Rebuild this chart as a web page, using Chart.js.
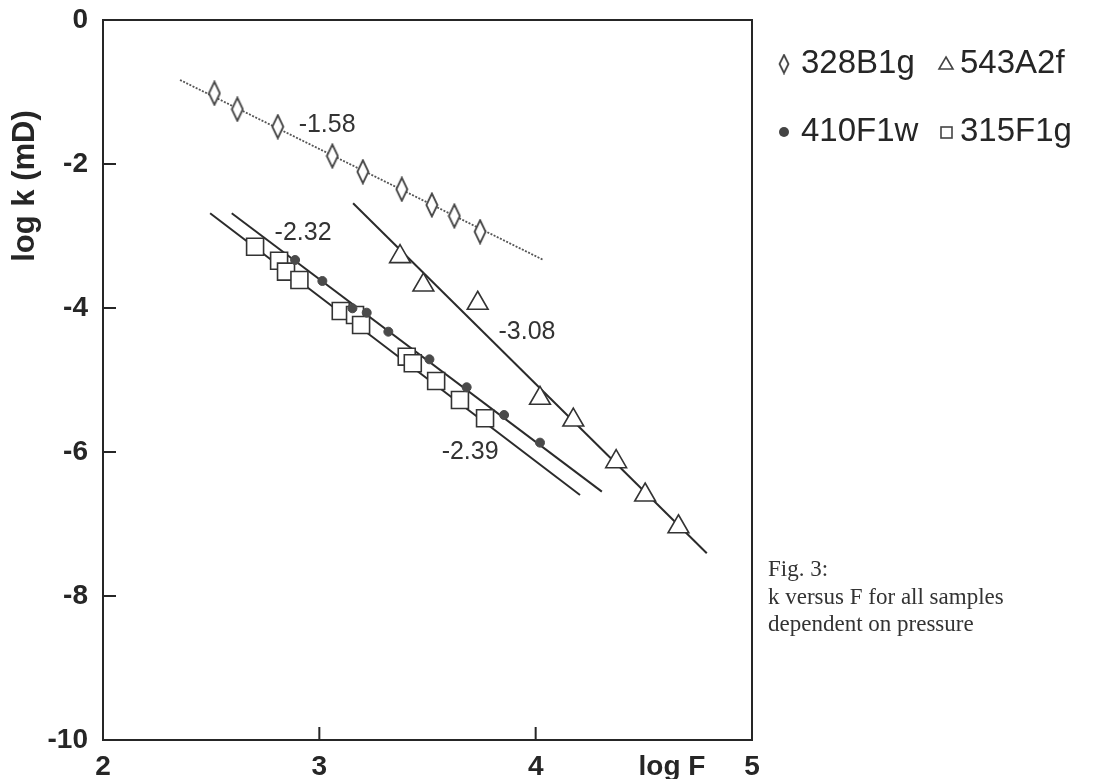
<!DOCTYPE html>
<html>
<head>
<meta charset="utf-8">
<script src="https://cdn.jsdelivr.net/npm/chart.js@4.4.0/dist/chart.umd.min.js"></script>
<style>
  html, body { margin: 0; padding: 0; background: #fff; }
</style>
</head>
<body>
<canvas id="myChart" width="1098" height="779"></canvas>
<script>
// values: x = log F, y = log k (mD)
const samples = ['328B1g', '543A2f', '410F1w', '315F1g'];

const f328 = [2.515, 2.621, 2.808, 3.060, 3.201, 3.381, 3.520, 3.624, 3.743];
const k328 = [-1.018, -1.240, -1.481, -1.889, -2.107, -2.351, -2.569, -2.722, -2.940];

const f543 = [3.373, 3.481, 3.732, 4.020, 4.174, 4.372, 4.506, 4.660];
const k543 = [-3.287, -3.681, -3.934, -5.254, -5.556, -6.135, -6.597, -7.038];

const f410 = [2.888, 3.014, 3.153, 3.219, 3.319, 3.509, 3.681, 3.854, 4.020];
const k410 = [-3.333, -3.625, -4.004, -4.065, -4.329, -4.713, -5.101, -5.486, -5.870];

const f315 = [2.703, 2.814, 2.846, 2.908, 3.099, 3.165, 3.193, 3.404, 3.432, 3.540, 3.650, 3.766];
const k315 = [-3.149, -3.343, -3.495, -3.611, -4.042, -4.097, -4.236, -4.676, -4.768, -5.014, -5.278, -5.532];

// fitted lines (end points)
const fit328F = [2.356, 4.036], fit328K = [-0.833, -3.333];
const fit543F = [3.156, 4.791], fit543K = [-2.546, -7.407];
const fit410F = [2.595, 4.306], fit410K = [-2.685, -6.551];
const fit315F = [2.495, 4.205], fit315K = [-2.685, -6.597];

// slope labels
const slopeText = ['-1.58', '-3.08', '-2.32', '-2.39'];
const slopeF = [3.036, 3.960, 2.925, 3.697];
const slopeK = [-1.458, -4.333, -2.958, -6.000];

const xTicks = [2, 3, 4, 5];
const yTicks = [0, -2, -4, -6, -8, -10];
const xTitleAt = 4.63;

const ink = '#262626';

function pts(xs, ys) {
  return xs.map((x, i) => ({ x: x, y: ys[i] }));
}

function diamond(w, h) {
  const c = document.createElement('canvas');
  c.width = w; c.height = h;
  const g = c.getContext('2d');
  g.strokeStyle = '#444'; g.lineWidth = 1.8; g.fillStyle = '#fff';
  g.beginPath();
  g.moveTo(w / 2, 1.5); g.lineTo(w - 1.5, h / 2); g.lineTo(w / 2, h - 1.5); g.lineTo(1.5, h / 2);
  g.closePath(); g.fill(); g.stroke();
  return c;
}
const diamondBig = diamond(14, 26);
const diamondSmall = diamond(12, 21);

const decor = {
  id: 'decor',
  afterDraw(chart) {
    const { ctx, chartArea: a, scales: { x, y } } = chart;
    ctx.save();
    // frame top/right + inward ticks
    ctx.strokeStyle = ink; ctx.lineWidth = 2;
    ctx.beginPath();
    ctx.moveTo(a.left, a.top); ctx.lineTo(a.right, a.top); ctx.lineTo(a.right, a.bottom);
    xTicks.slice(1, -1).forEach(v => {
      const px = x.getPixelForValue(v);
      ctx.moveTo(px, a.bottom); ctx.lineTo(px, a.bottom - 13);
    });
    yTicks.slice(1, -1).forEach(v => {
      const py = y.getPixelForValue(v);
      ctx.moveTo(a.left, py); ctx.lineTo(a.left + 13, py);
    });
    ctx.stroke();

    // slope labels
    ctx.fillStyle = '#333';
    ctx.font = '25px "Liberation Sans", Arial, sans-serif';
    ctx.textAlign = 'center'; ctx.textBaseline = 'middle';
    slopeText.forEach((t, i) => {
      ctx.fillText(t, x.getPixelForValue(slopeF[i]), y.getPixelForValue(slopeK[i]));
    });

    // y title
    ctx.save();
    ctx.translate(25, 186);
    ctx.rotate(-Math.PI / 2);
    ctx.font = 'bold 31px "Liberation Sans", Arial, sans-serif';
    ctx.fillStyle = ink;
    ctx.fillText('log k (mD)', 0, 0);
    ctx.restore();

    // legend
    ctx.font = '33px "Liberation Sans", Arial, sans-serif';
    ctx.fillStyle = ink; ctx.textAlign = 'left';
    const rows = [64, 132];
    ctx.drawImage(diamondSmall, 784 - 6, rows[0] - 10.5);
    ctx.fillText(samples[0], 801, rows[0]);
    ctx.strokeStyle = '#444'; ctx.lineWidth = 1.6;
    ctx.beginPath();
    ctx.moveTo(946, rows[0] - 7); ctx.lineTo(953, rows[0] + 5); ctx.lineTo(939, rows[0] + 5); ctx.closePath();
    ctx.stroke();
    ctx.fillText(samples[1], 960, rows[0]);
    ctx.fillStyle = '#444';
    ctx.beginPath(); ctx.arc(784, rows[1], 5, 0, Math.PI * 2); ctx.fill();
    ctx.fillStyle = ink;
    ctx.fillText(samples[2], 801, rows[1]);
    ctx.strokeRect(941, rows[1] - 5, 11, 11);
    ctx.fillText(samples[3], 960, rows[1]);

    // caption
    ctx.font = '23px "Liberation Serif", "Times New Roman", serif';
    ctx.fillStyle = '#333';
    ctx.fillText('Fig. 3:', 768, 570);
    ctx.fillText('k versus F for all samples', 768, 598);
    ctx.fillText('dependent on pressure', 768, 625);
    ctx.restore();
  }
};

const lineStyle = { showLine: true, pointRadius: 0, borderColor: '#2b2b2b', borderWidth: 2, order: 2 };

const config = {
  type: 'scatter',
  data: {
    datasets: [
      { label: samples[0], data: pts(f328, k328), pointStyle: diamondBig, order: 1 },
      { label: samples[1], data: pts(f543, k543), pointStyle: 'triangle', pointRadius: 12,
        backgroundColor: '#fff', borderColor: '#333', borderWidth: 1.6, order: 1 },
      { label: samples[2], data: pts(f410, k410), pointStyle: 'circle', pointRadius: 4.5,
        backgroundColor: '#4a4a4a', borderColor: '#4a4a4a', borderWidth: 1, order: 1 },
      { label: samples[3], data: pts(f315, k315), pointStyle: 'rect', pointRadius: 12,
        backgroundColor: '#fff', borderColor: '#333', borderWidth: 1.6, order: 1 },
      Object.assign({ label: 'fit ' + samples[0], data: pts(fit328F, fit328K) }, lineStyle,
        { borderColor: '#555', borderWidth: 1.8, borderDash: [2, 1.5] }),
      Object.assign({ label: 'fit ' + samples[1], data: pts(fit543F, fit543K) }, lineStyle),
      Object.assign({ label: 'fit ' + samples[2], data: pts(fit410F, fit410K) }, lineStyle),
      Object.assign({ label: 'fit ' + samples[3], data: pts(fit315F, fit315K) }, lineStyle)
    ]
  },
  options: {
    responsive: false,
    devicePixelRatio: 1,
    animation: false,
    layout: { padding: { top: 20, right: 346, left: 0, bottom: 0 } },
    plugins: { legend: { display: false }, tooltip: { enabled: false } },
    scales: {
      x: {
        type: 'linear', min: 2, max: 5,
        afterBuildTicks: s => { s.ticks = xTicks.concat([xTitleAt]).map(v => ({ value: v })); },
        afterFit: s => { s.height = 39; s.paddingLeft = 0; s.paddingRight = 0; },
        grid: { display: false, drawTicks: false },
        border: { display: true, color: ink, width: 2 },
        ticks: {
          padding: 10, color: ink, maxRotation: 0, autoSkip: false,
          font: { family: '"Liberation Sans", Arial, sans-serif', size: 28, weight: 'bold' },
          callback: v => v === xTitleAt ? 'log F' : v
        }
      },
      y: {
        type: 'linear', min: -10, max: 0,
        afterBuildTicks: s => { s.ticks = yTicks.map(v => ({ value: v })); },
        afterFit: s => { s.width = 103; s.paddingTop = 0; s.paddingBottom = 0; },
        grid: { display: false, drawTicks: false },
        border: { display: true, color: ink, width: 2 },
        ticks: {
          padding: 15, color: ink, autoSkip: false,
          font: { family: '"Liberation Sans", Arial, sans-serif', size: 28, weight: 'bold' }
        }
      }
    }
  },
  plugins: [decor]
};

const myChart = new Chart(document.getElementById('myChart'), config);
</script>
</body>
</html>
